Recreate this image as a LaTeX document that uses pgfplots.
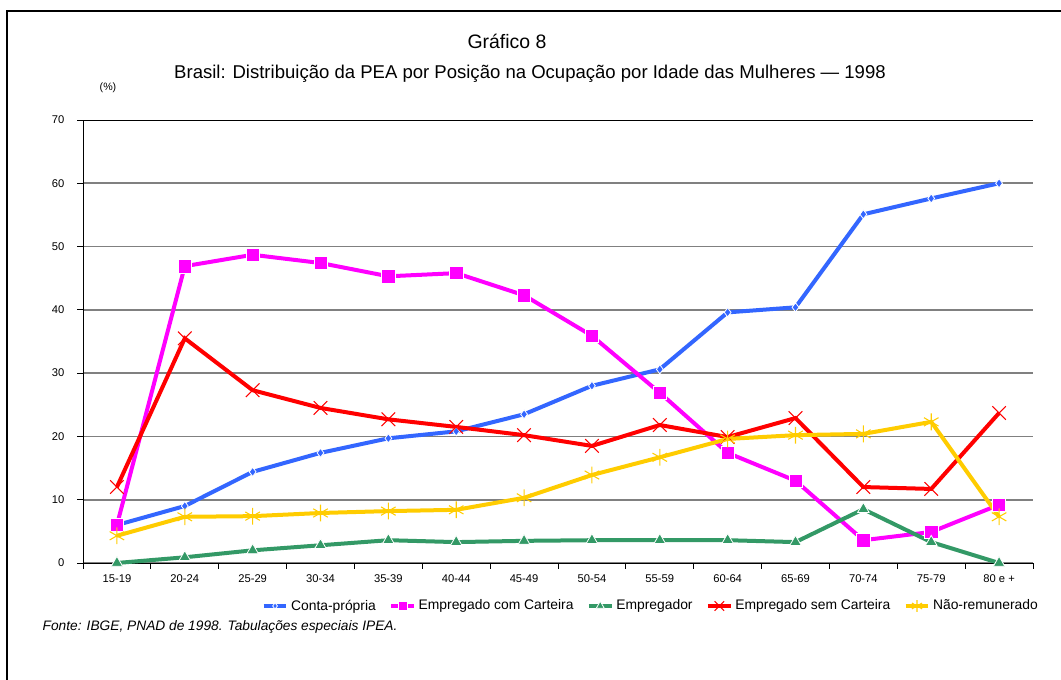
\documentclass[border=0pt]{standalone}
\usepackage{pgfplots}
\pgfplotsset{compat=1.18}
\usepackage{fontspec}
\setmainfont{Liberation Sans}
\definecolor{cblue}{RGB}{51,102,255}
\definecolor{cmag}{RGB}{255,0,255}
\definecolor{cgreen}{RGB}{51,153,102}
\definecolor{cred}{RGB}{255,0,0}
\definecolor{cyel}{RGB}{255,204,0}
\definecolor{cgrid}{RGB}{128,128,128}
\begin{document}
\begin{tikzpicture}[x=0.75pt,y=0.75pt]
\path[use as bounding box] (0,0) rectangle (1061,680);
\draw[line width=0.8pt] (7,0) -- (7,669) -- (1061,669);
\node at (507,639) {\fontsize{14.6}{16}\selectfont Gráfico 8};
\node at (530,606) {\fontsize{13.9}{16}\selectfont Brasil: Distribuição da PEA por Posição na Ocupação por Idade das Mulheres — 1998};
\node at (108,592) {\fontsize{8}{9}\selectfont (\%)};
\node[anchor=west] at (38,53) {\fontsize{10.3}{12}\selectfont\itshape Fonte: IBGE, PNAD de 1998. Tabulações especiais IPEA.};
\begin{axis}[
  at={(62.25pt,87.75pt)}, anchor=south west, scale only axis,
  width=712.5pt, height=332.25pt,
  xmin=-0.5, xmax=13.5, ymin=0, ymax=70,
  axis x line=bottom, axis y line=left,
  axis line style={black, line width=0.6pt, -},
  xtick={0,...,13},
  xticklabels={15-19,20-24,25-29,30-34,35-39,40-44,45-49,50-54,55-59,60-64,65-69,70-74,75-79,80 e +},
  major x tick style={draw=none},
  minor xtick={-0.5,0.5,...,13.5},
  minor x tick style={black, line width=0.6pt},
  minor tick length=4.5pt,
  ytick={0,10,...,60},
  extra y ticks={70},
  extra y tick style={grid style={black, line width=0.7pt}},
  ytick style={black, line width=0.6pt},
  major tick length=4.5pt,
  tick align=outside,
  ymajorgrids,
  grid style={cgrid, line width=1.3pt},
  tick label style={font=\fontsize{8.4}{9}\selectfont},
  /pgf/number format/assume math mode=true,
  yticklabel style={xshift=-6pt},
  xticklabel style={yshift=-1pt},
  legend columns=5,
  legend style={draw=none, fill=none, at={(0.598,-0.097)}, anchor=center,
    font=\fontsize{10.4}{12}\selectfont,
    /tikz/every even column/.append style={column sep=8pt}},
  legend image code/.code={
    \draw[#1] (0cm,0cm) -- (0.6cm,0cm);
    \draw[#1, every mark/.append style={scale=0.7}] plot coordinates {(0.3cm,0cm)};
  },
  legend cell align=left,
  clip=false,
]
\addplot[cblue, line width=3pt, mark=diamond*, mark size=3.4pt, mark options={fill=cblue, draw=white, line width=0.6pt}] coordinates {
(0,6.0)(1,9.0)(2,14.4)(3,17.4)(4,19.7)(5,20.8)(6,23.5)(7,28.0)(8,30.6)(9,39.6)(10,40.4)(11,55.1)(12,57.6)(13,60.0)};
\addlegendentry{Conta-própria}
\addplot[cmag, line width=3pt, mark=square*, mark size=5pt, mark options={fill=cmag, draw=white, line width=0.5pt}] coordinates {
(0,6.0)(1,46.9)(2,48.7)(3,47.4)(4,45.3)(5,45.8)(6,42.3)(7,35.9)(8,26.9)(9,17.4)(10,13.0)(11,3.6)(12,4.9)(13,9.2)};
\addlegendentry{Empregado com Carteira}
\addplot[cgreen, line width=3pt, mark=triangle*, mark size=5pt, mark options={fill=cgreen, draw=white, line width=0.6pt}] coordinates {
(0,0)(1,0.9)(2,2.0)(3,2.8)(4,3.6)(5,3.3)(6,3.5)(7,3.6)(8,3.6)(9,3.6)(10,3.3)(11,8.5)(12,3.3)(13,0)};
\addlegendentry{Empregador}
\addplot[cred, line width=3pt, mark=x, mark size=7.2pt, mark options={line width=0.8pt, solid}] coordinates {
(0,12.0)(1,35.5)(2,27.3)(3,24.5)(4,22.7)(5,21.5)(6,20.2)(7,18.5)(8,21.8)(9,19.9)(10,22.9)(11,12.0)(12,11.7)(13,23.7)};
\addlegendentry{Empregado sem Carteira}
\addplot[cyel, line width=3pt, mark=asterisk, mark size=6.3pt, mark options={line width=0.8pt, solid}] coordinates {
(0,4.3)(1,7.3)(2,7.4)(3,7.9)(4,8.2)(5,8.4)(6,10.3)(7,13.9)(8,16.7)(9,19.6)(10,20.2)(11,20.4)(12,22.3)(13,7.3)};
\addlegendentry{Não-remunerado}
\end{axis}
\end{tikzpicture}
\end{document}
